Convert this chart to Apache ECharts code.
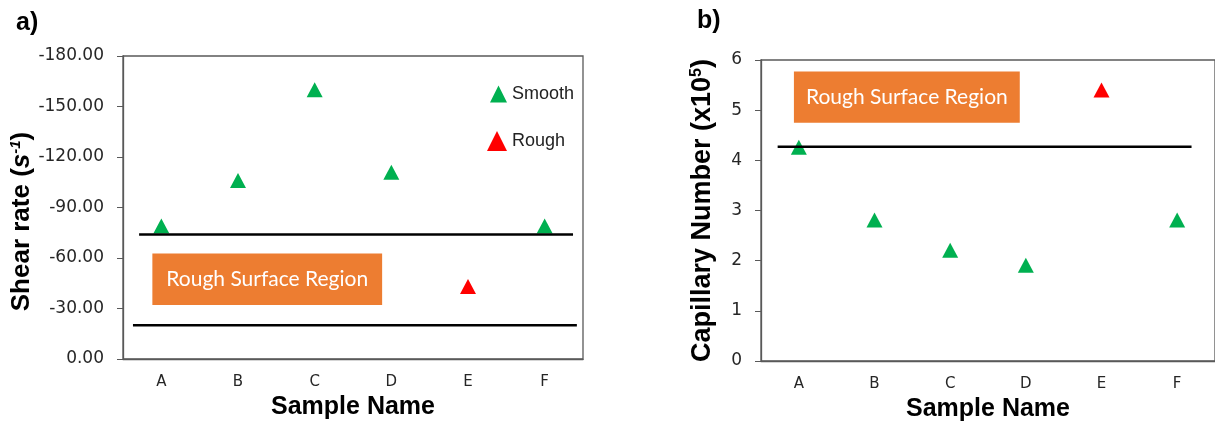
<!DOCTYPE html>
<html>
<head>
<meta charset="utf-8">
<script src="https://cdn.jsdelivr.net/npm/echarts@6/dist/echarts.min.js"></script>
<style>
  html, body { margin: 0; padding: 0; background: #fff; }
  #chart { width: 1215px; height: 428px; }
</style>
</head>
<body>
<div id="chart"></div>
<script>
// Samples and their measured values
const categories = ['A', 'B', 'C', 'D', 'E', 'F'];
const surfaceType = ['Smooth', 'Smooth', 'Smooth', 'Smooth', 'Rough', 'Smooth'];
const shearRate = [-79, -106, -160, -111, -43, -79];          // s^-1
const capillaryNumber = [4.26, 2.81, 2.21, 1.91, 5.40, 2.81]; // x10^5

// Boundaries of the rough-surface region
const shearBounds = [-74, -20];
const capillaryBound = [4.27];

// Axis ranges
const shearAxis = { min: -180, max: 0, step: 30 };
const capillaryAxis = { min: 0, max: 6, step: 1 };

const GREEN = '#00B050';
const RED = '#FF0000';
const ORANGE = '#ED7D31';
const AXIS_GREY = '#595959';
const LABEL_FONT = 'DejaVu Sans';
const TITLE_FONT = 'Liberation Sans';

function pick(values, type) {
  return values.map((v, i) => (surfaceType[i] === type ? v : '-'));
}

const chart = echarts.init(document.getElementById('chart'), null, { renderer: 'canvas' });

const catAxis = (gridIndex) => ({
  type: 'category',
  gridIndex,
  data: categories,
  boundaryGap: true,
  name: 'Sample Name',
  nameLocation: 'middle',
  nameGap: 30,
  nameTextStyle: { fontFamily: TITLE_FONT, fontWeight: 'bold', fontSize: 25, color: '#000' },
  axisLine: { onZero: false, lineStyle: { color: AXIS_GREY, width: 1.3 } },
  axisTick: { alignWithLabel: true, length: 4, lineStyle: { color: AXIS_GREY } },
  axisLabel: { margin: 16, fontFamily: LABEL_FONT, fontSize: 15, color: '#262626' },
  splitLine: { show: false }
});

// hidden numeric x axis over each grid, used to place the boundary lines and region boxes
const posAxis = (gridIndex) => ({
  type: 'value', gridIndex, min: -0.5, max: 5.5, show: false, splitLine: { show: false }
});

const valueAxisCommon = {
  nameLocation: 'middle',
  axisLine: { show: true, onZero: false, lineStyle: { color: AXIS_GREY, width: 1.3 } },
  axisTick: { show: true, length: 6, lineStyle: { color: AXIS_GREY } },
  splitLine: { show: false }
};

const boxLabel = {
  show: true, position: 'inside', color: '#fff',
  fontFamily: 'Lato', fontSize: 21
};

const markerStyle = (color) => ({ color, opacity: 1 });

const option = {
  animation: false,
  backgroundColor: '#fff',
  title: [
    { text: 'a)', left: 11, top: 6, textStyle: { fontFamily: TITLE_FONT, fontWeight: 'bold', fontSize: 25, color: '#000' } },
    { text: 'b)', left: 692, top: 4, textStyle: { fontFamily: TITLE_FONT, fontWeight: 'bold', fontSize: 25, color: '#000' } }
  ],
  legend: [
    {
      data: ['Smooth'], left: 485, top: 80, orient: 'vertical',
      icon: 'triangle', itemWidth: 17, itemHeight: 17, itemGap: 5,
      textStyle: { fontFamily: TITLE_FONT, fontSize: 18, color: '#222' }
    },
    {
      data: ['Rough'], left: 482, top: 126, orient: 'vertical',
      icon: 'triangle', itemWidth: 20, itemHeight: 20, itemGap: 5,
      textStyle: { fontFamily: TITLE_FONT, fontSize: 18, color: '#222' }
    }
  ],
  grid: [
    { left: 123, top: 56, width: 460, height: 303, show: true, borderColor: AXIS_GREY, borderWidth: 1.3, backgroundColor: 'transparent' },
    { left: 761, top: 60, width: 460, height: 301, show: true, borderColor: AXIS_GREY, borderWidth: 1.3, backgroundColor: 'transparent' }
  ],
  xAxis: [catAxis(0), catAxis(1), posAxis(0), posAxis(1)],
  yAxis: [
    Object.assign({}, valueAxisCommon, {
      type: 'value', gridIndex: 0,
      min: shearAxis.min, max: shearAxis.max, interval: shearAxis.step, inverse: true,
      name: '{b|Shear rate (}{i|s}{sup|-1}{b|)}',
      nameGap: 86,
      nameTextStyle: {
        padding: [0, 28, 0, 0],
        rich: {
          b: { fontFamily: TITLE_FONT, fontWeight: 'bold', fontSize: 26, color: '#000' },
          i: { fontFamily: TITLE_FONT, fontWeight: 'bold', fontStyle: 'italic', fontSize: 26, color: '#000' },
          sup: { fontFamily: TITLE_FONT, fontWeight: 'bold', fontStyle: 'italic', fontSize: 15, color: '#000', verticalAlign: 'top' }
        }
      },
      axisLabel: { margin: 19, fontFamily: LABEL_FONT, fontSize: 17, color: '#262626', formatter: (v) => v.toFixed(2) }
    }),
    Object.assign({}, valueAxisCommon, {
      type: 'value', gridIndex: 1,
      min: capillaryAxis.min, max: capillaryAxis.max, interval: capillaryAxis.step,
      name: '{b|Capillary Number (x10}{sup|5}{b|)}',
      nameGap: 45,
      nameTextStyle: {
        rich: {
          b: { fontFamily: TITLE_FONT, fontWeight: 'bold', fontSize: 27, color: '#000' },
          sup: { fontFamily: TITLE_FONT, fontWeight: 'bold', fontSize: 16, color: '#000', verticalAlign: 'top' }
        }
      },
      axisLabel: { margin: 19, fontFamily: LABEL_FONT, fontSize: 17, color: '#262626' }
    })
  ],
  series: [
    // rough-surface region box and boundary lines, left panel
    {
      type: 'line', xAxisIndex: 2, yAxisIndex: 0, z: 5, silent: true,
      symbol: 'none', lineStyle: { color: '#000', width: 2.5 },
      data: [[-0.29, shearBounds[0]], [5.37, shearBounds[0]]],
      markArea: {
        silent: true,
        itemStyle: { color: ORANGE, opacity: 1 },
        label: boxLabel,
        data: [[
          { name: 'Rough Surface Region', coord: [-0.117, -62.6] },
          { coord: [2.88, -32.1] }
        ]]
      }
    },
    {
      type: 'line', xAxisIndex: 2, yAxisIndex: 0, z: 5, silent: true,
      symbol: 'none', lineStyle: { color: '#000', width: 2.5 },
      data: [[-0.37, shearBounds[1]], [5.42, shearBounds[1]]]
    },
    // right panel
    {
      type: 'line', xAxisIndex: 3, yAxisIndex: 1, z: 5, silent: true,
      symbol: 'none', lineStyle: { color: '#000', width: 2.5 },
      data: [[-0.28, capillaryBound[0]], [5.19, capillaryBound[0]]],
      markArea: {
        silent: true,
        itemStyle: { color: ORANGE, opacity: 1 },
        label: boxLabel,
        data: [[
          { name: 'Rough Surface Region', coord: [-0.065, 5.77] },
          { coord: [2.92, 4.75] }
        ]]
      }
    },
    // samples
    {
      name: 'Smooth', type: 'scatter', xAxisIndex: 0, yAxisIndex: 0, z: 3,
      symbol: 'triangle', symbolSize: [16, 15], itemStyle: markerStyle(GREEN),
      data: pick(shearRate, 'Smooth')
    },
    {
      name: 'Rough', type: 'scatter', xAxisIndex: 0, yAxisIndex: 0, z: 3,
      symbol: 'triangle', symbolSize: [16, 15], itemStyle: markerStyle(RED),
      data: pick(shearRate, 'Rough')
    },
    {
      name: 'Smooth', type: 'scatter', xAxisIndex: 1, yAxisIndex: 1, z: 3,
      symbol: 'triangle', symbolSize: [16, 15], itemStyle: markerStyle(GREEN),
      data: pick(capillaryNumber, 'Smooth')
    },
    {
      name: 'Rough', type: 'scatter', xAxisIndex: 1, yAxisIndex: 1, z: 3,
      symbol: 'triangle', symbolSize: [16, 15], itemStyle: markerStyle(RED),
      data: pick(capillaryNumber, 'Rough')
    }
  ]
};

chart.setOption(option);
</script>
</body>
</html>
